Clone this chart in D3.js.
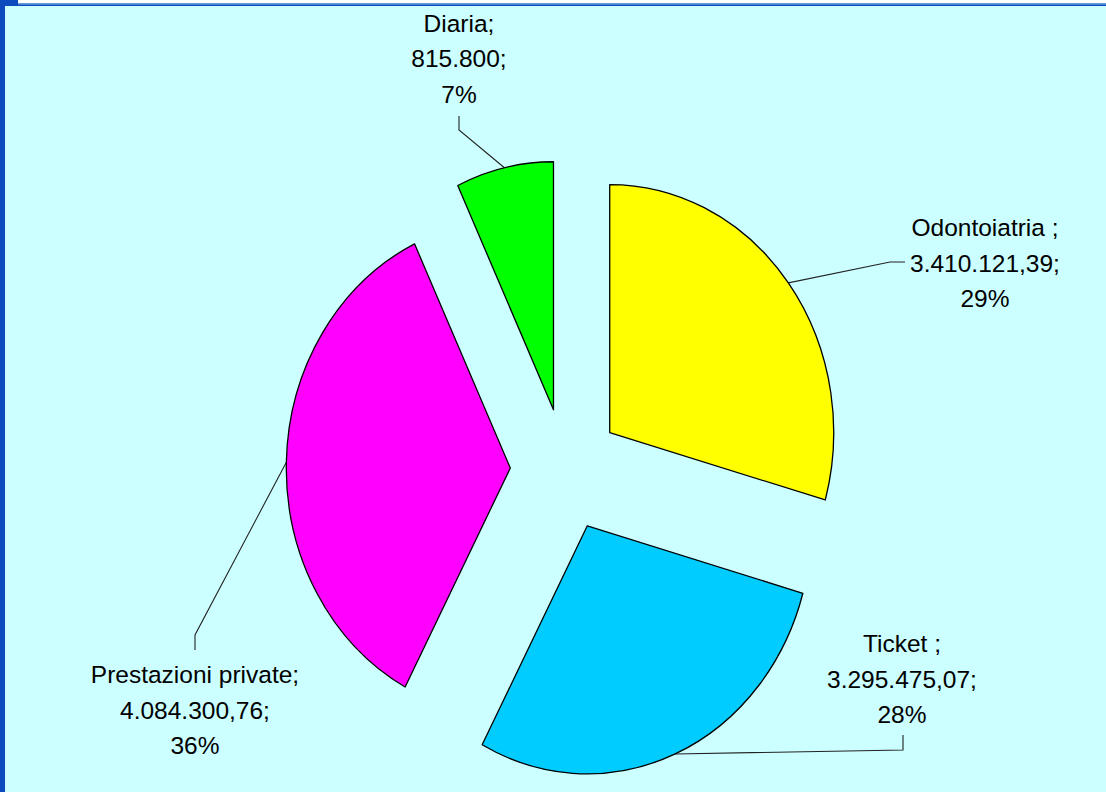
<!DOCTYPE html>
<html>
<head>
<meta charset="utf-8">
<script src="https://cdn.jsdelivr.net/npm/d3@7"></script>
<style>
  html, body { margin: 0; padding: 0; background: #fff; }
  svg { display: block; }
  text { font-family: "Liberation Sans", Arial, sans-serif; }
</style>
</head>
<body>
<script>
// chart data
var categories = ["Odontoiatria ;", "Ticket ;", "Prestazioni private;", "Diaria;"];
var values = [3410121.39, 3295475.07, 4084300.76, 815800];
var percentLabels = ["29%", "28%", "36%", "7%"];
var colors = ["#ffff00", "#00ccff", "#ff00ff", "#00ff00"];

var width = 1106;
var height = 792;

// pie geometry (excel style: slightly oval, every slice exploded)
var cx = 565.6, cy = 469.5;
var rx = 224, ry = 248;
var explode = 0.247;

// label placement: centre x, first baseline, elbow and end of the leader line
var labelPos = [
  {x: 985, y: 236, elbow: [890, 262], end: [905, 262]},
  {x: 902, y: 652, elbow: [903, 750], end: [903, 735]},
  {x: 195, y: 683, elbow: [195, 635], end: [195, 650]},
  {x: 459, y: 31.5, elbow: [459, 130], end: [459, 116]}
];
var lineGap = 35.5;

var it = d3.formatLocale({decimal: ",", thousands: ".", grouping: [3], currency: ["€", ""]});
var fmtDec = it.format(",.2f");
var fmtInt = it.format(",d");
function fmtValue(v) { return Number.isInteger(v) ? fmtInt(v) : fmtDec(v); }

var svg = d3.select("body").append("svg")
    .attr("width", width)
    .attr("height", height);

// background and frame
svg.append("rect").attr("width", width).attr("height", height).attr("fill", "#ccffff");
svg.append("rect").attr("x", 0).attr("y", 0).attr("width", width).attr("height", 3.3).attr("fill", "#ffffff");
svg.append("rect").attr("x", 0).attr("y", 3.3).attr("width", width).attr("height", 1.3).attr("fill", "#3a6fd0");
svg.append("rect").attr("x", 0).attr("y", 4.6).attr("width", width).attr("height", 1.4).attr("fill", "#0b4bbd");
svg.append("rect").attr("x", 0).attr("y", 0).attr("width", 18).attr("height", 6).attr("fill", "#0b4bbd");
svg.append("rect").attr("x", 0).attr("y", 0).attr("width", 5).attr("height", height).attr("fill", "#0b4bbd");

var pie = d3.pie().sort(null).value(function(d) { return d; });
var arcs = pie(values);

var arc = d3.arc().innerRadius(0).outerRadius(ry);
var sx = rx / ry;

function apex(d) {
  var m = (d.startAngle + d.endAngle) / 2;
  return [cx + explode * rx * Math.sin(m), cy - explode * ry * Math.cos(m)];
}

function edgePoint(d) {
  var m = (d.startAngle + d.endAngle) / 2;
  var a = apex(d);
  return [a[0] + rx * Math.sin(m), a[1] - ry * Math.cos(m)];
}

// leader lines
var line = d3.line();
svg.selectAll(".leader")
    .data(arcs)
  .enter().append("path")
    .attr("class", "leader")
    .attr("fill", "none")
    .attr("stroke", "#222")
    .attr("stroke-width", 1.1)
    .attr("d", function(d, i) {
      return line([edgePoint(d), labelPos[i].elbow, labelPos[i].end]);
    });

// slices
svg.selectAll(".slice")
    .data(arcs)
  .enter().append("path")
    .attr("class", "slice")
    .attr("transform", function(d) {
      var a = apex(d);
      return "translate(" + a[0] + "," + a[1] + ") scale(" + sx + ",1)";
    })
    .attr("d", arc)
    .attr("fill", function(d, i) { return colors[i]; })
    .attr("stroke", "#000")
    .attr("stroke-width", 1.3)
    .attr("stroke-linejoin", "round")
    .attr("vector-effect", "non-scaling-stroke");

// labels
var labels = svg.selectAll(".label")
    .data(arcs)
  .enter().append("text")
    .attr("class", "label")
    .attr("text-anchor", "middle")
    .attr("font-size", "24.5px")
    .attr("fill", "#000");

labels.each(function(d, i) {
  var t = d3.select(this);
  var lines = [categories[i], fmtValue(values[i]) + ";", percentLabels[i]];
  lines.forEach(function(s, k) {
    t.append("tspan")
      .attr("x", labelPos[i].x)
      .attr("y", labelPos[i].y + k * lineGap)
      .text(s);
  });
});
</script>
</body>
</html>
